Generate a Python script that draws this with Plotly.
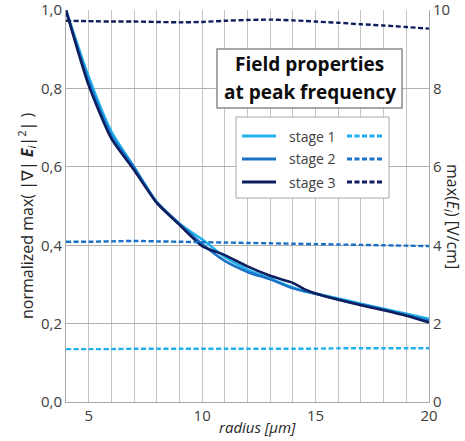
import plotly.graph_objects as go

# ---- data ----
radius = [4, 5, 6, 7, 8, 9, 10, 11, 12, 13, 14, 14.5, 15, 16, 17, 18, 19, 20]
grad_stage1 = [1.0, 0.830, 0.690, 0.600, 0.510, 0.455, 0.415, 0.370, 0.338, 0.315, 0.292, 0.283, 0.277, 0.264, 0.251, 0.238, 0.225, 0.212]
grad_stage2 = [1.0, 0.818, 0.680, 0.598, 0.510, 0.455, 0.403, 0.360, 0.332, 0.313, 0.290, 0.283, 0.276, 0.262, 0.249, 0.236, 0.222, 0.207]
grad_stage3 = [1.0, 0.808, 0.672, 0.592, 0.508, 0.452, 0.398, 0.375, 0.346, 0.322, 0.304, 0.288, 0.277, 0.261, 0.247, 0.234, 0.220, 0.203]

radius_e = [4, 5, 6, 7, 8, 9, 10, 11, 12, 13, 14, 15, 16, 17, 18, 19, 20]
emax_stage1 = [1.35, 1.35, 1.35, 1.36, 1.36, 1.36, 1.36, 1.36, 1.36, 1.36, 1.36, 1.36, 1.37, 1.37, 1.37, 1.37, 1.37]
emax_stage2 = [4.09, 4.09, 4.10, 4.11, 4.10, 4.09, 4.08, 4.07, 4.06, 4.05, 4.04, 4.03, 4.02, 4.01, 4.00, 3.99, 3.98]
emax_stage3 = [9.73, 9.72, 9.71, 9.71, 9.70, 9.69, 9.70, 9.73, 9.75, 9.76, 9.74, 9.71, 9.68, 9.64, 9.61, 9.57, 9.53]

stage_names = ["stage 1", "stage 2", "stage 3"]
colors = ["#21B1EC", "#1A72C6", "#0D1F5E"]

left_ticks = [0.0, 0.2, 0.4, 0.6, 0.8, 1.0]
right_ticks = [0, 2, 4, 6, 8, 10]
x_ticks = [5, 10, 15, 20]

FONT = "Open Sans"
W, H = 465, 441
ML, MR, MT, MB = 66, 36, 10, 39
PW, PH = W - ML - MR, H - MT - MB


def px(x, y):
    return (x - ML) / PW, (H - MB - y) / PH


fig = go.Figure()
grads = [grad_stage1, grad_stage2, grad_stage3]
emaxs = [emax_stage1, emax_stage2, emax_stage3]
for i in range(3):
    fig.add_trace(go.Scatter(x=radius, y=grads[i], mode="lines", name=stage_names[i],
                             line=dict(color=colors[i], width=2.6, shape="spline", smoothing=0.6),
                             showlegend=False, yaxis="y"))
for i in range(3):
    fig.add_trace(go.Scatter(x=radius_e, y=emaxs[i], mode="lines", name=stage_names[i],
                             line=dict(color=colors[i], width=2.4, dash="5px,2.5px", shape="spline", smoothing=0.6),
                             showlegend=False, yaxis="y2"))

grid = "#C4C4C4"
axcol = "#A8A8A8"
tickfont = dict(family=FONT, size=15, color="#404040")

fig.update_layout(
    width=W, height=H,
    margin=dict(l=ML, r=MR, t=MT, b=MB, autoexpand=False),
    paper_bgcolor="white", plot_bgcolor="white",
    separators=", ",
    showlegend=False,
    xaxis=dict(range=[4, 20], tickvals=x_ticks, showgrid=True, gridcolor=grid, gridwidth=1,
               minor=dict(dtick=1, tick0=0, showgrid=True, gridcolor=grid, gridwidth=1),
               showline=True, linecolor=axcol, linewidth=1, zeroline=False,
               tickfont=tickfont, ticks="", ticklabeloverflow="allow"),
    yaxis=dict(range=[0, 1.0005], tickvals=left_ticks, tickformat=".1f", showgrid=True,
               gridcolor="#B0B0B0", gridwidth=1, showline=True, linecolor=axcol, linewidth=1,
               zeroline=False, tickfont=tickfont, ticks="", ticklabeloverflow="allow"),
    yaxis2=dict(range=[0, 10.005], tickvals=right_ticks, overlaying="y", side="right", showgrid=False,
                showline=True, linecolor=axcol, linewidth=1, zeroline=False,
                tickfont=tickfont, ticks="", ticklabeloverflow="allow"),
)

annots = []
shapes = []

# axis titles
x0, y0 = px(26, 216)
annots.append(dict(text="normalized max( |∇| <b><i>E</i></b><sub><i>i</i></sub>|<sup>2</sup>| )",
                   x=x0, y=y0, xref="paper", yref="paper", showarrow=False, textangle=-90,
                   font=dict(family=FONT, size=16, color="#262626"), xanchor="center", yanchor="middle"))
x0, y0 = px(453, 216)
annots.append(dict(text="max(<i>E</i><sub><i>i</i></sub>) [V/cm]",
                   x=x0, y=y0, xref="paper", yref="paper", showarrow=False, textangle=90,
                   font=dict(family=FONT, size=16, color="#262626"), xanchor="center", yanchor="middle"))
x0, y0 = px(257, 427)
annots.append(dict(text="<i>radius [μm]</i>", x=x0, y=y0, xref="paper", yref="paper",
                   showarrow=False, font=dict(family=FONT, size=15, color="#262626"),
                   xanchor="center", yanchor="middle"))

# title box
bx0, by0 = px(217, 108)
bx1, by1 = px(402, 49)
shapes.append(dict(type="rect", xref="paper", yref="paper", x0=bx0, y0=by0, x1=bx1, y1=by1,
                   fillcolor="white", line=dict(color="#8C8C8C", width=1.5), layer="above"))
for txt, yy in [("Field properties", 64), ("at peak frequency", 92)]:
    tx, ty = px(309.5, yy)
    annots.append(dict(text="<b>" + txt + "</b>", x=tx, y=ty, xref="paper", yref="paper",
                       showarrow=False, font=dict(family=FONT, size=19, color="#0D0D0D"),
                       xanchor="center", yanchor="middle"))

# legend box
lx0, ly0 = px(236, 198)
lx1, ly1 = px(389, 117)
shapes.append(dict(type="rect", xref="paper", yref="paper", x0=lx0, y0=ly0, x1=lx1, y1=ly1,
                   fillcolor="white", line=dict(color="#A6A6A6", width=1), layer="above"))
for i, yy in enumerate([136, 159, 182]):
    a0, b = px(242, yy)
    a1, _ = px(276, yy)
    shapes.append(dict(type="line", xref="paper", yref="paper", x0=a0, y0=b, x1=a1, y1=b,
                       line=dict(color=colors[i], width=3), layer="above"))
    d0, _ = px(347, yy)
    d1, _ = px(382, yy)
    shapes.append(dict(type="line", xref="paper", yref="paper", x0=d0, y0=b, x1=d1, y1=b,
                       line=dict(color=colors[i], width=3, dash="5px,2.5px"), layer="above"))
    tx, _ = px(287, yy)
    annots.append(dict(text=stage_names[i], x=tx, y=b, xref="paper", yref="paper",
                       showarrow=False, font=dict(family=FONT, size=14, color="#404040"),
                       xanchor="left", yanchor="middle"))

fig.update_layout(annotations=annots, shapes=shapes)
fig.write_html("out.html", post_script="document.body.style.margin='0';",
               config={"displayModeBar": False})
